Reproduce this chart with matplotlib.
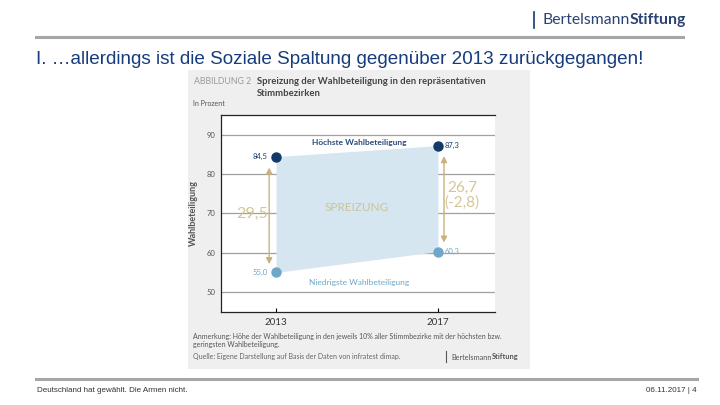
import matplotlib.pyplot as plt
from matplotlib.patches import Rectangle

# ── Data ───────────────────────────────────────────────────────────────────────
years   = [2013, 2017]
highest = [84.5, 87.3]
lowest  = [55.0, 60.3]
spread  = [29.5, 26.7]
change  = "(-2,8)"
yticks  = [50, 60, 70, 80, 90]

TITLE = "I. \u2026allerdings ist die Soziale Spaltung gegenüber 2013 zurückgegangen!"
FOOTER_L = "Deutschland hat gewählt. Die Armen nicht."
FOOTER_R = "06.11.2017 | 4"

NAVY   = "#13396b"
LIGHT  = "#6ea7c9"
FILL   = "#d5e6f0"
GOLD   = "#c9b27a"
GOLDTX = "#d3c796"
GRIDC  = "#a0a0a0"
W, H = 720, 405


def fx(x):
    return x / W


def fy(y):
    return 1 - y / H


def comma(v):
    return f"{v:.1f}".replace(".", ",")


fig = plt.figure(figsize=(7.2, 4.05), dpi=100)
fig.patch.set_facecolor("white")
renderer = fig.canvas.get_renderer()


def logo(x, y, size, color):
    # "Bertelsmann" regular directly followed by bold "Stiftung"
    t = fig.text(fx(x), fy(y), "Bertelsmann", family="Lato", fontsize=size, color=color,
                 va="center", ha="left")
    bb = t.get_window_extent(renderer)
    fig.text(bb.x1 / fig.bbox.width, fy(y), "Stiftung", family="Lato", fontsize=size,
             fontweight="bold", color=color, va="center", ha="left")


# ── Slide frame ────────────────────────────────────────────────────────────────
fig.add_artist(plt.Line2D([fx(36), fx(683)], [fy(37), fy(37)], color="#a6a6a6", lw=2.2))
fig.add_artist(plt.Line2D([fx(36), fx(697)], [fy(379), fy(379)], color="#a6a6a6", lw=2.2))
fig.add_artist(plt.Line2D([fx(534), fx(534)], [fy(12), fy(28)], color=NAVY, lw=1.2))
logo(542, 20, 11.3, "#2a4272")
fig.text(fx(36), fy(60), TITLE, family="Liberation Sans", fontsize=13.6, color="#163c7d",
         va="center", ha="left")
fig.text(fx(37), fy(391), FOOTER_L, family="Liberation Sans", fontsize=5.8, color="#333333",
         va="center", ha="left")
fig.text(fx(697), fy(391), FOOTER_R, family="Liberation Sans", fontsize=5.8, color="#333333",
         va="center", ha="right")

# ── Embedded figure background ─────────────────────────────────────────────────
fig.add_artist(Rectangle((fx(188), fy(369)), fx(530) - fx(188), fy(70) - fy(369),
                         transform=fig.transFigure, facecolor="#efefef", edgecolor="none",
                         zorder=0))
fig.text(fx(194), fy(82), "ABBILDUNG 2", family="Lato", fontsize=6.3, color="#9a9a9a",
         va="center")
fig.text(fx(257), fy(82), "Spreizung der Wahlbeteiligung in den repräsentativen",
         family="Lato", fontsize=6.8, fontweight="bold", color="#444444", va="center")
fig.text(fx(257), fy(93), "Stimmbezirken", family="Lato", fontsize=6.8, fontweight="bold",
         color="#444444", va="center")
fig.text(fx(193), fy(103), "In Prozent", family="Lato", fontsize=5, color="#555555",
         va="center")
fig.text(fx(193), fy(337),
         "Anmerkung: Höhe der Wahlbeteiligung in den jeweils 10% aller Stimmbezirke mit der höchsten bzw.",
         family="Lato", fontsize=5.0, color="#555555", va="center")
fig.text(fx(193), fy(345), "geringsten Wahlbeteiligung.", family="Lato", fontsize=5.0,
         color="#555555", va="center")
fig.text(fx(193), fy(357), "Quelle: Eigene Darstellung auf Basis der Daten von infratest dimap.",
         family="Lato", fontsize=5.0, color="#666666", va="center")
fig.add_artist(plt.Line2D([fx(446), fx(446)], [fy(351), fy(362)], color="#555555", lw=0.8))
logo(451, 357, 5.3, "#555555")

# ── Chart ──────────────────────────────────────────────────────────────────────
ax = fig.add_axes([fx(221), fy(312), fx(495) - fx(221), fy(115) - fy(312)])
ax.set_facecolor("white")
ax.set_xlim(2011.64, 2018.41)
ax.set_ylim(44.9, 95.1)

ax.fill_between(years, lowest, highest, color=FILL, lw=0, zorder=1)
ax.plot(years, highest, "o", color=NAVY, ms=6.5, zorder=4)
ax.plot(years, lowest, "o", color=LIGHT, ms=6.5, zorder=4)

ax.set_yticks(yticks)
ax.set_xticks(years)
ax.yaxis.grid(True, color=GRIDC, lw=0.9, zorder=0)
ax.set_axisbelow(True)
ax.tick_params(axis="y", length=0, labelsize=5.5, labelcolor="#555555", pad=4)
ax.tick_params(axis="x", direction="in", length=3, width=0.8, labelsize=7,
               labelcolor="#333333", pad=4)
for lbl in ax.get_xticklabels() + ax.get_yticklabels():
    lbl.set_family("Lato")
for s in ["left", "top", "bottom"]:
    ax.spines[s].set_color("#222222")
    ax.spines[s].set_linewidth(0.9)
ax.spines["right"].set_visible(False)
ax.set_ylabel("Wahlbeteiligung", family="Lato", fontsize=6.5, fontweight="bold",
              color="#555555", labelpad=6)

# value labels
ax.annotate(comma(highest[0]), (years[0], highest[0]), xytext=(-6, 0),
            textcoords="offset points", ha="right", va="center", fontsize=5.5,
            color=NAVY, family="Lato")
ax.annotate(comma(lowest[0]), (years[0], lowest[0]), xytext=(-6, 0),
            textcoords="offset points", ha="right", va="center", fontsize=5.5,
            color=LIGHT, family="Lato")
ax.annotate(comma(highest[1]), (years[1], highest[1]), xytext=(5, 0),
            textcoords="offset points", ha="left", va="center", fontsize=5.5,
            color=NAVY, family="Lato")
ax.annotate(comma(lowest[1]), (years[1], lowest[1]), xytext=(5, 0),
            textcoords="offset points", ha="left", va="center", fontsize=5.5,
            color=LIGHT, family="Lato")

# spread arrows
arrow = dict(arrowstyle="<|-|>,head_length=0.35,head_width=0.18", color=GOLD, lw=1.0,
             shrinkA=0, shrinkB=0)
ax.annotate("", xy=(years[0] - 0.17, lowest[0] + 2.1), xytext=(years[0] - 0.17, highest[0] - 2.8),
            arrowprops=arrow)
ax.annotate("", xy=(years[1] + 0.15, lowest[1] + 2.3), xytext=(years[1] + 0.15, highest[1] - 2.7),
            arrowprops=arrow)

ax.text(years[0] - 0.6, 70, comma(spread[0]), ha="center", va="center", fontsize=11.5,
        color=GOLDTX, family="Lato")
ax.text(years[1] + 0.6, 76.5, comma(spread[1]), ha="center", va="center", fontsize=11,
        color=GOLDTX, family="Lato")
ax.text(years[1] + 0.6, 72.9, change, ha="center", va="center", fontsize=11,
        color=GOLDTX, family="Lato")
ax.text(sum(years) / 2, 71.6, "SPREIZUNG", ha="center", va="center", fontsize=8.5,
        color="#cbc39c", family="Lato")

ax.text(2015.05, 88.2, "Höchste Wahlbeteiligung", ha="center", va="center", fontsize=6,
        fontweight="bold", color="#2b4a78", family="Lato")
ax.text(2015.05, 52.5, "Niedrigste Wahlbeteiligung", ha="center", va="center", fontsize=6,
        color=LIGHT, family="Lato")

fig.savefig("out.png", dpi=100)
